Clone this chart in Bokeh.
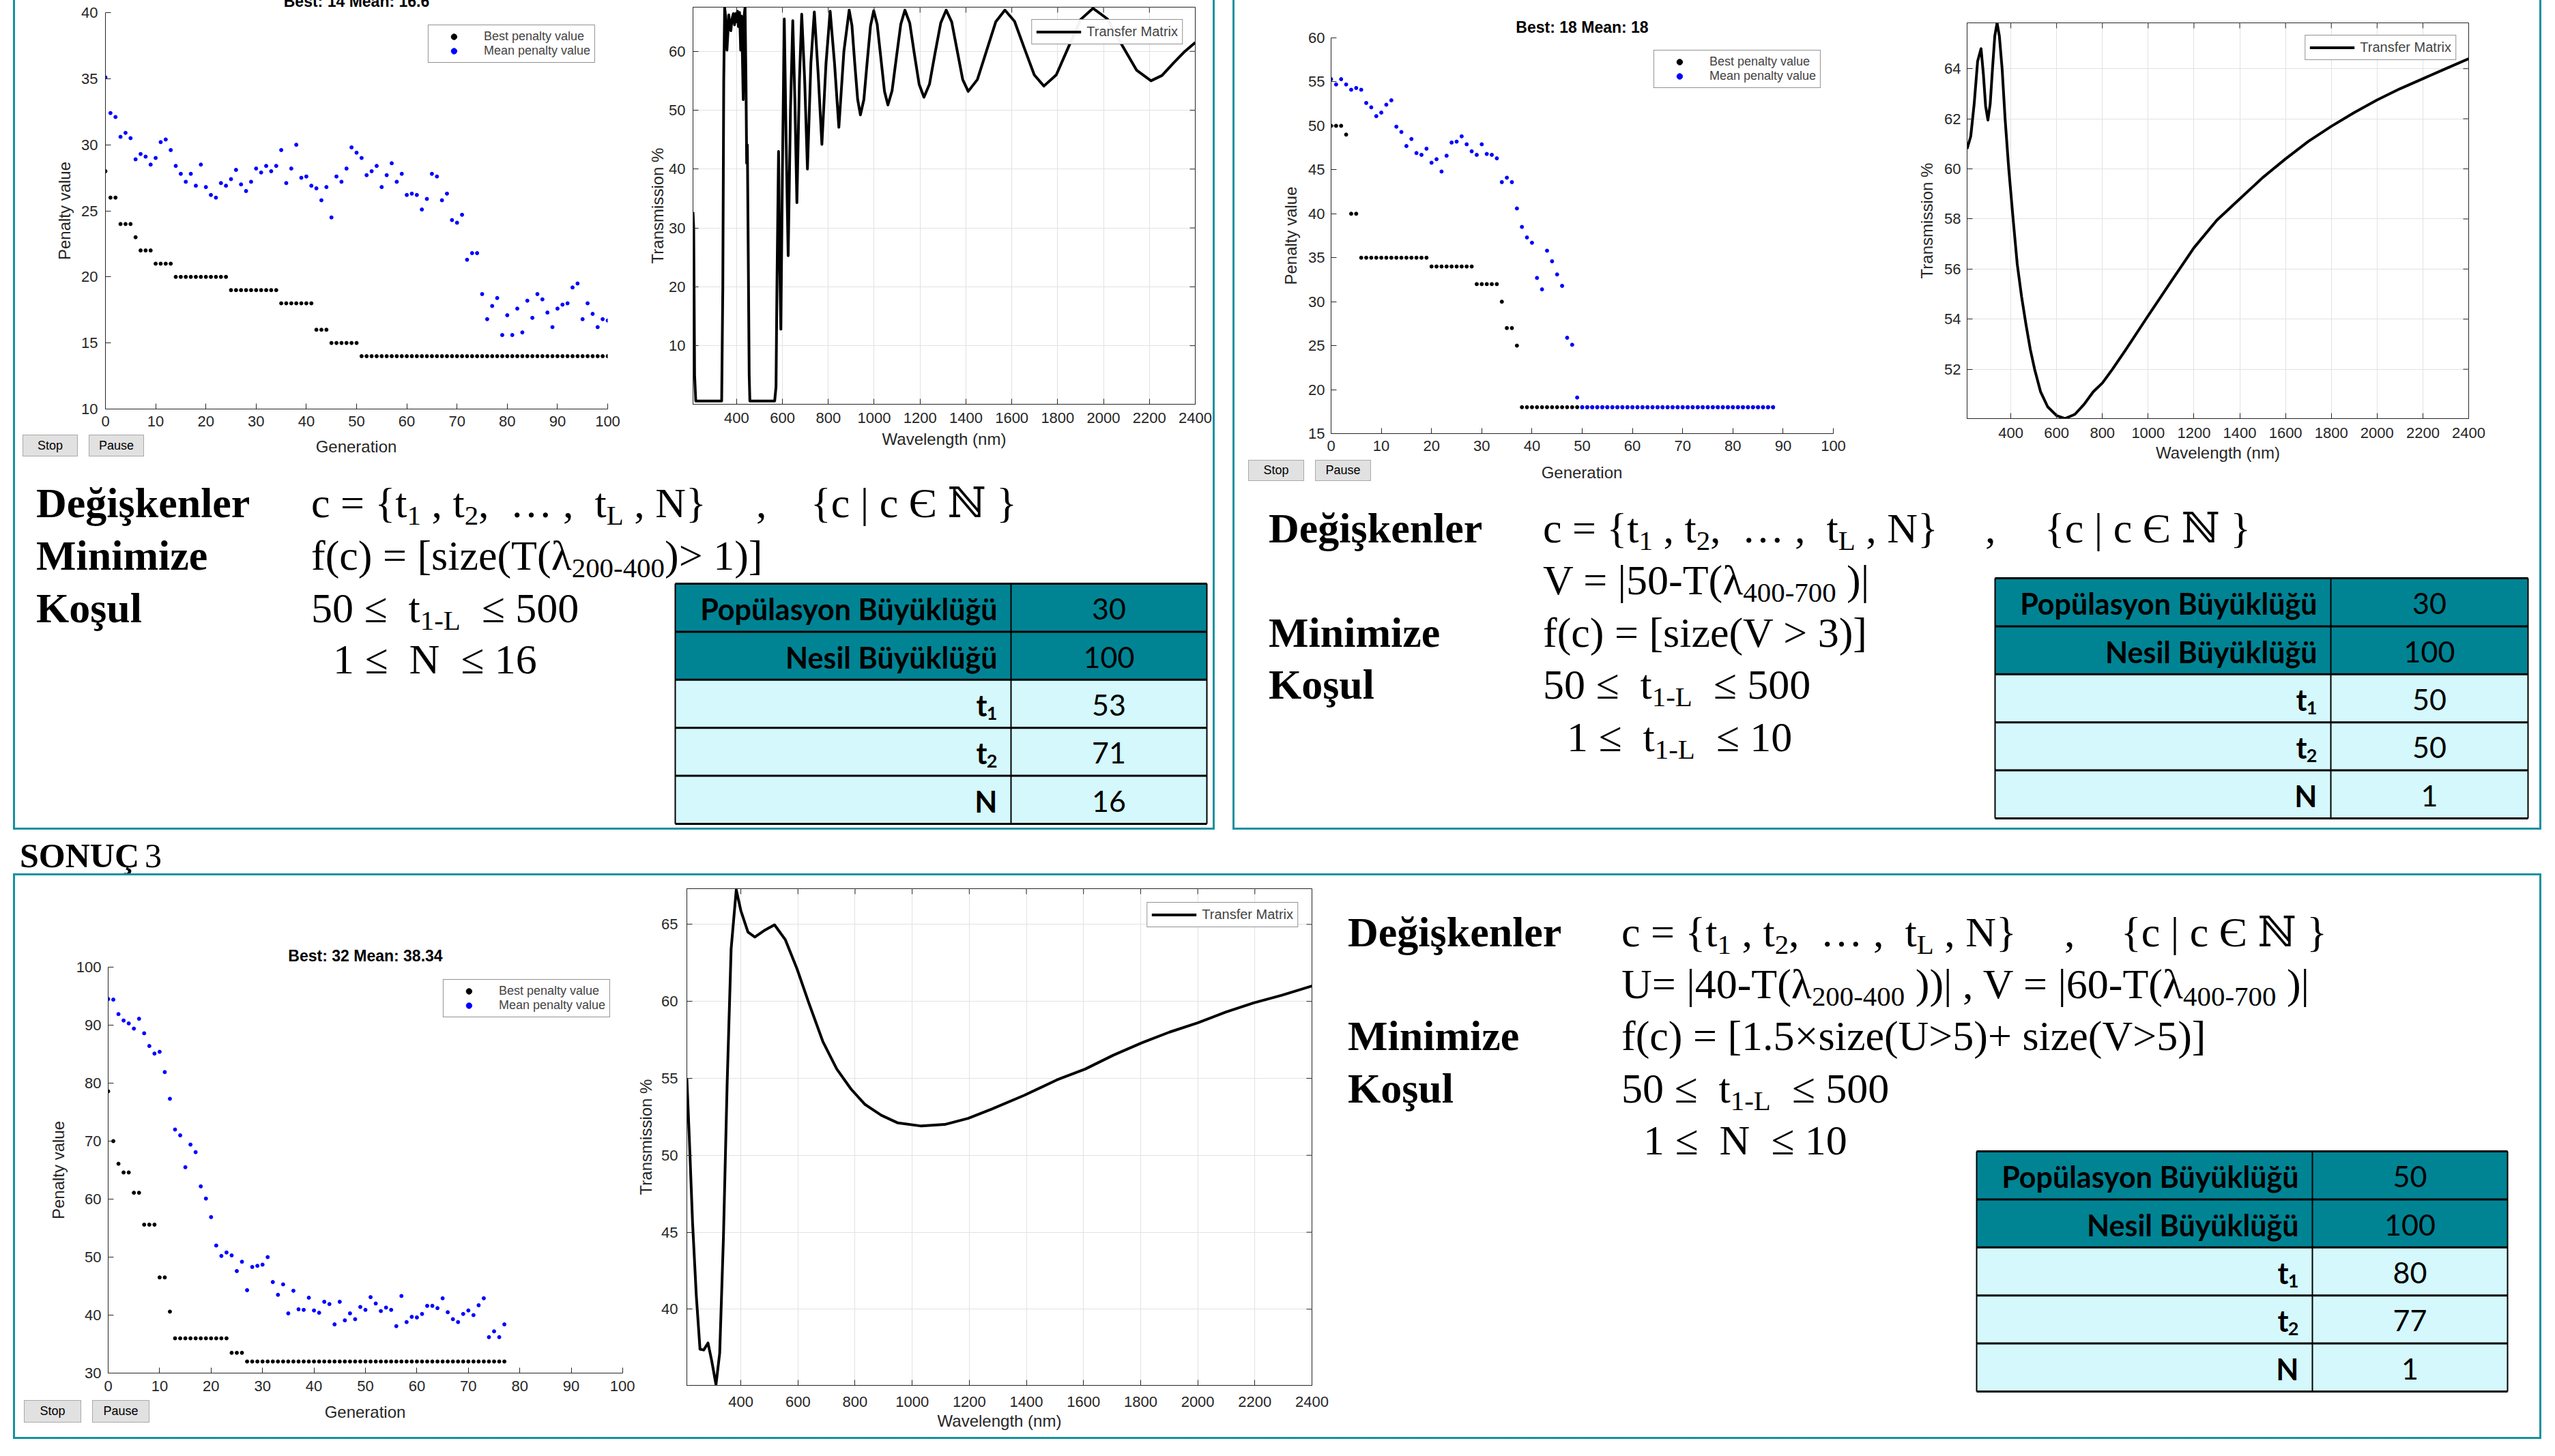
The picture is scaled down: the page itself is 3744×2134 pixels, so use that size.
from bokeh.plotting import figure
from bokeh.models import Range1d, FixedTicker, Div, Spacer
from bokeh.layouts import row, column
from bokeh.embed import file_html
from bokeh.resources import INLINE
from bokeh.core.properties import value

# ------------------------------------------------------------------ data
gen1 = list(range(101))
best1 = [28, 26, 26, 24, 24, 24, 23, 22, 22, 22, 21, 21, 21, 21,
         20, 20, 20, 20, 20, 20, 20, 20, 20, 20, 20,
         19, 19, 19, 19, 19, 19, 19, 19, 19, 19,
         18, 18, 18, 18, 18, 18, 18,
         16, 16, 16,
         15, 15, 15, 15, 15, 15,
         14, 14, 14, 14, 14, 14, 14, 14, 14, 14,
         14, 14, 14, 14, 14, 14, 14, 14, 14, 14,
         14, 14, 14, 14, 14, 14, 14, 14, 14, 14,
         14, 14, 14, 14, 14, 14, 14, 14, 14, 14,
         14, 14, 14, 14, 14, 14, 14, 14, 14, 14]
mean1 = [35.1, 32.4, 32.1, 30.6, 30.9, 30.5, 28.9, 29.3, 29.1, 28.5,
         29.0, 30.2, 30.4, 29.6, 28.4, 27.8, 27.2, 27.8, 26.9, 28.5,
         26.8, 26.2, 26.0, 27.1, 26.9, 27.4, 28.1, 27.0, 26.5, 27.2,
         28.2, 27.9, 28.4, 28.0, 28.4, 29.6, 27.1, 28.2, 30.0, 27.5,
         27.6, 26.9, 26.7, 25.8, 26.8, 24.5, 27.6, 27.2, 28.2, 29.8,
         29.4, 29.0, 27.7, 28.0, 28.4, 26.8, 27.7, 28.6, 27.2, 27.8,
         26.2, 26.3, 26.2, 25.1, 25.9, 27.8, 27.6, 25.8, 26.3, 24.3,
         24.1, 24.7, 21.3, 21.8, 21.8, 18.7, 16.8, 17.8, 18.4, 15.6,
         17.1, 15.6, 17.6, 15.8, 18.2, 16.9, 18.7, 18.3, 17.3, 16.2,
         17.6, 17.9, 18.0, 19.2, 19.5, 16.8, 18.0, 17.2, 16.2, 16.8,
         16.7]

gen2 = list(range(89))
best2 = [50, 50, 50, 49, 40, 40,
         35, 35, 35, 35, 35, 35, 35, 35, 35, 35, 35, 35, 35, 35,
         34, 34, 34, 34, 34, 34, 34, 34, 34,
         32, 32, 32, 32, 32, 30, 27, 27, 25,
         18, 18, 18, 18, 18, 18, 18, 18, 18, 18,
         18, 18, 18, 18, 18, 18, 18, 18, 18, 18,
         18, 18, 18, 18, 18, 18, 18, 18, 18, 18,
         18, 18, 18, 18, 18, 18, 18, 18, 18, 18,
         18, 18, 18, 18, 18, 18, 18, 18, 18, 18, 18]
mean2 = [55.3, 54.7, 55.3, 54.7, 54.1, 54.3, 54.1, 52.6, 52.1, 51.1,
         51.5, 52.4, 52.9, 49.9, 49.3, 47.7, 48.5, 46.9, 46.7, 47.4,
         45.8, 46.2, 44.8, 46.6, 48.1, 48.2, 48.8, 47.9, 47.1, 46.7,
         47.9, 46.8, 46.7, 46.3, 43.6, 44.1, 43.6, 40.6, 38.5, 37.3,
         36.7, 32.7, 31.4, 35.8, 34.6, 33.1, 31.8, 25.9, 25.1, 19.1,
         18, 18, 18, 18, 18, 18, 18, 18, 18, 18,
         18, 18, 18, 18, 18, 18, 18, 18, 18, 18,
         18, 18, 18, 18, 18, 18, 18, 18, 18, 18,
         18, 18, 18, 18, 18, 18, 18, 18, 18]

gen3 = list(range(78))
best3 = [78.6, 70, 66.1, 64.6, 64.6, 61.1, 61.1, 55.6, 55.6, 55.6,
         46.5, 46.5, 40.6,
         36, 36, 36, 36, 36, 36, 36, 36, 36, 36, 36,
         33.5, 33.5, 33.5,
         32, 32, 32, 32, 32, 32, 32, 32, 32, 32,
         32, 32, 32, 32, 32, 32, 32, 32, 32, 32,
         32, 32, 32, 32, 32, 32, 32, 32, 32, 32,
         32, 32, 32, 32, 32, 32, 32, 32, 32, 32,
         32, 32, 32, 32, 32, 32, 32, 32, 32, 32, 32]
mean3 = [94.5, 94.4, 91.9, 90.8, 90.3, 89.4, 91.1, 88.6, 86.4, 85.1,
         85.4, 81.9, 77.3, 72.0, 71.0, 65.5, 69.4, 68.1, 62.2, 60.1,
         56.9, 52.0, 50.2, 50.8, 50.3, 47.6, 49.2, 44.3, 48.3, 48.5,
         48.7, 50.0, 45.7, 43.5, 45.3, 40.3, 44.2, 41.0, 40.9, 43.0,
         40.8, 40.4, 42.3, 41.9, 38.4, 42.3, 39.1, 40.3, 39.3, 41.4,
         40.9, 43.1, 42.0, 40.7, 41.3, 40.9, 38.1, 43.3, 38.8, 39.7,
         39.6, 40.2, 41.6, 41.6, 41.2, 42.9, 40.5, 39.3, 38.8, 40.2,
         40.8, 40.0, 41.7, 42.9, 36.2, 37.2, 36.2, 38.4]

lam1 = [210, 213, 217, 222, 335, 340, 344, 348, 352, 358, 362, 366, 371, 375,
        380, 386, 391, 396, 400, 404, 408, 413, 418, 421, 425, 429, 433, 437,
        441, 444, 447, 450, 455, 458, 566, 572, 576, 583, 588, 593, 600, 608,
        616, 625, 635, 645, 654, 663, 674, 684, 697, 709, 724, 739, 756, 772,
        790, 808, 827, 846, 868, 891, 903, 915, 928, 940, 955, 969, 984, 998,
        1013, 1029, 1045, 1060, 1078, 1097, 1116, 1134, 1155, 1175, 1196, 1217,
        1241, 1265, 1290, 1314, 1338, 1362, 1386, 1410, 1450, 1490, 1530, 1570,
        1612, 1655, 1698, 1740, 1794, 1847, 1900, 1954, 2017, 2080, 2144, 2207,
        2255, 2305, 2355, 2400]
T1 = [32.7, 30.0, 5.0, 0.6, 0.6, 20.0, 55.0, 67.4, 66.0, 60.2, 63.0, 66.2, 64.0, 63.5,
      65.5, 66.4, 64.5, 66.4, 65.0, 66.8, 64.2, 66.6, 60.2, 66.0, 60.0, 51.8, 66.0, 67.5,
      55.0, 41.0, 44.1, 30.0, 5.0, 0.6, 0.6, 3.0, 20.0, 43.0, 25.0, 12.8, 40.0, 65.5,
      45.0, 25.3, 50.0, 65.2, 52.0, 34.3, 55.0, 66.3, 55.0, 40.0, 58.0, 66.7, 56.0, 44.2,
      58.0, 66.8, 58.0, 47.1, 60.0, 67.0, 64.4, 58.1, 51.8, 49.2, 51.8, 58.0, 64.3, 66.9,
      64.6, 58.9, 53.2, 50.9, 53.3, 59.0, 64.6, 67.0, 64.8, 59.6, 54.4, 52.2,
      54.4, 59.6, 64.8, 67.0, 65.0, 60.1, 55.2, 53.2, 55.2, 60.1, 65.0, 67.0,
      65.1, 60.5, 56.0, 54.1, 56.0, 60.7, 65.4, 67.3, 65.5, 61.1, 56.8, 55.0,
      55.9, 58.0, 60.0, 61.5]

lam2 = [209, 225, 240, 255, 270, 280, 290, 300, 310, 320, 330, 340, 350, 362,
        375, 391, 411, 428, 447, 466, 485, 504, 530, 561, 600, 636, 680, 720,
        760, 800, 844, 900, 990, 1100, 1200, 1300, 1400, 1500, 1600, 1700,
        1800, 1900, 2000, 2100, 2200, 2300, 2400]
T2 = [60.8, 61.3, 62.6, 64.3, 64.8, 63.8, 62.5, 61.95, 62.6, 64.0, 65.3, 65.83, 65.3, 64.0,
      62.0, 60.0, 57.9, 56.2, 54.9, 53.8, 52.8, 52.0, 51.1, 50.5, 50.15, 50.03, 50.2, 50.6,
      51.1, 51.45, 52.0, 52.75, 54.0, 55.5, 56.85, 57.95, 58.8, 59.65, 60.4, 61.1,
      61.7, 62.25, 62.75, 63.2, 63.6, 64.0, 64.4]

lam3 = [211, 220, 231, 244, 257, 270, 285, 298, 313, 326, 339, 352, 366, 384,
        400, 425, 449, 482, 518, 556, 597, 638, 687, 736, 786, 835, 892, 950,
        1032, 1114, 1196, 1278, 1393, 1507, 1606, 1704, 1803, 1901, 2000, 2098,
        2196, 2295, 2400]
T3 = [55.0, 50.9, 45.6, 40.9, 37.4, 37.35, 37.8, 36.65, 35.1, 37.15, 44.6, 54.6, 63.4, 67.25,
      65.9, 64.5, 64.18, 64.6, 64.97, 64.0, 62.1, 59.9, 57.4, 55.6, 54.3, 53.3, 52.6, 52.1,
      51.9, 52.0, 52.4, 53.0, 53.9, 54.9, 55.6, 56.5, 57.3, 58.0, 58.6, 59.3,
      59.9, 60.4, 61.0]

table_labels = ["Popülasyon Büyüklüğü", "Nesil Büyüklüğü", "t", "t", "N"]
table_subs = ["", "", "1", "2", ""]
table1_values = ["30", "100", "53", "71", "16"]
table2_values = ["30", "100", "50", "50", "1"]
table3_values = ["50", "100", "80", "77", "1"]

titles = ["Best: 14 Mean: 16.6", "Best: 18 Mean: 18", "Best: 32 Mean: 38.34"]
gen_ticks = [0, 10, 20, 30, 40, 50, 60, 70, 80, 90, 100]
pen_ticks1 = [10, 15, 20, 25, 30, 35, 40]
pen_ticks2 = [15, 20, 25, 30, 35, 40, 45, 50, 55, 60]
pen_ticks3 = [30, 40, 50, 60, 70, 80, 90, 100]
wl_ticks = [400, 600, 800, 1000, 1200, 1400, 1600, 1800, 2000, 2200, 2400]
tr_ticks1 = [10, 20, 30, 40, 50, 60]
tr_ticks2 = [52, 54, 56, 58, 60, 62, 64]
tr_ticks3 = [40, 45, 50, 55, 60, 65]

# ------------------------------------------------------------------ styles
TEAL = "#17919f"
HEAD = "#008494"
LIGHT = "#d4f8fc"
AX = "#262626"
SANS = "Liberation Sans"
SHIFT = 24   # page is shifted up by this many px (top of the slide is cut off)


def style_axis(ax, tick_so, label_so):
    ax.major_tick_in = 8
    ax.major_tick_out = 0
    ax.minor_tick_in = 0
    ax.minor_tick_out = 0
    ax.axis_line_color = AX
    ax.major_tick_line_color = AX
    ax.major_label_text_font = SANS
    ax.major_label_text_font_size = "22px"
    ax.major_label_text_color = AX
    ax.major_label_standoff = tick_so
    ax.axis_label_text_font = SANS
    ax.axis_label_text_font_size = "24px"
    ax.axis_label_text_font_style = "normal"
    ax.axis_label_text_color = AX
    ax.axis_label_standoff = label_so


def ga_block(w, h_fig, h_div, bl, br, bt, bb, yr, yticks, gb, best, gm, mean, title,
             title_so, tso, lso, buttons, gen_center):
    xr = (0, 100)
    p = figure(width=w, height=h_fig, x_range=Range1d(*xr), y_range=Range1d(*yr),
               output_backend="svg", toolbar_location=None, title=title,
               min_border_left=bl, min_border_right=br, min_border_top=bt,
               min_border_bottom=bb, outline_line_color=None,
               background_fill_color="white", border_fill_color="white")
    p.title.align = "center"
    p.title.text_font = SANS
    p.title.text_font_style = "bold"
    p.title.text_font_size = "23px"
    p.title.text_color = "black"
    p.title.standoff = title_so
    p.scatter(gb, best, size=5, color="black", legend_label="Best penalty value")
    p.scatter(gm, mean, size=5, color="blue", legend_label="Mean penalty value")
    p.grid.visible = False
    p.xaxis.ticker = FixedTicker(ticks=gen_ticks)
    p.yaxis.ticker = FixedTicker(ticks=yticks)
    p.yaxis.axis_label = "Penalty value"
    style_axis(p.xaxis[0], tso[0], 0)
    style_axis(p.yaxis[0], tso[1], lso)
    leg = p.legend[0]
    leg.location = "top_right"
    leg.margin = 18
    leg.padding = 6
    leg.spacing = 0
    leg.label_text_font = SANS
    leg.label_text_font_size = "18px"
    leg.label_height = 21
    leg.glyph_height = 21
    leg.glyph_width = 62
    leg.label_standoff = 13
    leg.border_line_color = AX
    leg.border_line_width = 1
    # strip under the plot: Stop / Pause buttons and the x-axis title
    parts = []
    for (txt, left, top, bw, bh) in buttons:
        parts.append('<div style="position:absolute;left:%dpx;top:%dpx;width:%dpx;height:%dpx;'
                     'box-sizing:border-box;background:#e1e1e1;border:1px solid #a9a9a9;'
                     "font-family:'Liberation Sans',sans-serif;font-size:18px;color:#000;"
                     'line-height:%dpx;text-align:center">%s</div>'
                     % (left, top, bw, bh, bh - 2, txt))
    cx, cy = gen_center
    parts.append('<div style="position:absolute;left:%dpx;top:%dpx;width:300px;height:28px;'
                 "font-family:'Liberation Sans',sans-serif;font-size:24px;color:%s;"
                 'line-height:28px;text-align:center;white-space:nowrap">Generation</div>'
                 % (cx - 150, cy - 14, AX))
    d = Div(text='<div style="position:relative;width:%dpx;height:%dpx">%s</div>'
            % (w, h_div, "".join(parts)), width=w, height=h_div, margin=0)
    return column(p, d)


def tm_fig(w, h, bl, br, bt, bb, xr, yr, yticks, lam, T, tso, lso, lmargin):
    p = figure(width=w, height=h, x_range=Range1d(*xr), y_range=Range1d(*yr),
               output_backend="svg", toolbar_location=None, title=None,
               min_border_left=bl, min_border_right=br, min_border_top=bt,
               min_border_bottom=bb, outline_line_color=AX, outline_line_width=1,
               background_fill_color="white", border_fill_color="white")
    fw, fh = w - bl - br, h - bt - bb
    p.line(lam, T, line_color="black", line_width=4, line_join="round",
           legend_label="Transfer Matrix")
    p.xaxis.ticker = FixedTicker(ticks=wl_ticks)
    p.yaxis.ticker = FixedTicker(ticks=yticks)
    p.xgrid.ticker = FixedTicker(ticks=wl_ticks)
    p.ygrid.ticker = FixedTicker(ticks=yticks)
    p.grid.grid_line_color = "#e2e2e2"
    p.grid.grid_line_width = 1
    p.xaxis.axis_label = "Wavelength (nm)"
    p.yaxis.axis_label = "Transmission %"
    style_axis(p.xaxis[0], tso[0], lso[0])
    style_axis(p.yaxis[0], tso[1], lso[1])
    # inward tick marks on the top and right edges (MATLAB box)
    dy = (yr[1] - yr[0]) / fh
    dx = (xr[1] - xr[0]) / fw
    nx, ny = len(wl_ticks), len(yticks)
    p.segment(x0=wl_ticks, x1=wl_ticks, y0=[yr[1]] * nx, y1=[yr[1] - 8 * dy] * nx,
              line_color=AX, line_width=1)
    p.segment(x0=[xr[1]] * ny, x1=[xr[1] - 8 * dx] * ny, y0=yticks, y1=yticks,
              line_color=AX, line_width=1)
    leg = p.legend[0]
    leg.location = "top_right"
    leg.margin = lmargin
    leg.padding = 6
    leg.spacing = 0
    leg.label_text_font = SANS
    leg.label_text_font_size = "20px"
    leg.label_height = 21
    leg.glyph_height = 21
    leg.glyph_width = 66
    leg.label_standoff = 8
    leg.border_line_color = AX
    leg.border_line_width = 1
    return p


def table_fig(w, h, table_top, br_extra, labels, subs, vals, lw=492, th=352):
    n = len(labels)
    tw = w - br_extra
    vw = tw - lw
    rh = th / n
    ft = max(table_top - 2, 0)
    fh = th + 4
    p = figure(width=w, height=h, x_range=Range1d(-2, tw + 2),
               y_range=Range1d(n + 2 / rh, -2 / rh),
               x_axis_type=None, y_axis_type=None, output_backend="svg",
               toolbar_location=None, title=None,
               min_border_left=0, min_border_right=w - (tw + 4),
               min_border_top=ft, min_border_bottom=h - ft - fh,
               outline_line_color=None, background_fill_color="white",
               border_fill_color="white")
    p.grid.visible = False
    idx = list(range(n))
    fills = [HEAD if i < 2 else LIGHT for i in idx]
    p.quad(left=[0] * n, right=[lw] * n, top=idx, bottom=[i + 1 for i in idx],
           fill_color=fills, line_color=None)
    p.quad(left=[lw] * n, right=[tw] * n, top=idx, bottom=[i + 1 for i in idx],
           fill_color=fills, line_color=None)
    p.segment(x0=[0] * (n + 1), x1=[tw] * (n + 1), y0=list(range(n + 1)),
              y1=list(range(n + 1)), line_color="black", line_width=3)
    p.segment(x0=[0, lw, tw], x1=[0, lw, tw], y0=[0, 0, 0], y1=[n, n, n],
              line_color="black", line_width=2)
    ys = [i + 0.5 for i in idx]
    offs = [-15 if s else 0 for s in subs]
    p.text(x=[lw - 20] * n, y=ys, text=labels, x_offset=offs, y_offset=[2] * n,
           text_align="right", text_baseline="middle", text_font=value("Lato"),
           text_font_style="bold", text_font_size="43px", text_color="black")
    sub_idx = [i for i in idx if subs[i]]
    p.text(x=[lw - 20] * len(sub_idx), y=[ys[i] for i in sub_idx],
           text=[subs[i] for i in sub_idx], y_offset=[14] * len(sub_idx),
           text_align="right", text_baseline="middle", text_font=value("Lato"),
           text_font_style="bold", text_font_size="27px", text_color="black")
    p.text(x=[lw + vw / 2] * n, y=ys, text=vals, y_offset=[2] * n,
           text_align="center", text_baseline="middle", text_font=value("Lato"),
           text_font_size="43px", text_color="black")
    return p


FS = 62


def SUB(s):
    return ('<span style="font-size:0.66em;position:relative;top:0.26em">' + s + '</span>')


def text_div(w, h, items):
    parts = []
    for (left, base, html, bold) in items:
        top = base - round(0.8375 * FS)
        parts.append('<div style="position:absolute;left:%dpx;top:%dpx;font-size:%dpx;'
                     'font-weight:%s;white-space:nowrap;line-height:1">%s</div>'
                     % (left, top, FS, "bold" if bold else "normal", html))
    html = ('<div style="position:relative;width:%dpx;height:%dpx;'
            "font-family:'Liberation Serif','DejaVu Serif',serif;color:#000\">%s</div>"
            % (w, h, "".join(parts)))
    return Div(text=html, width=w, height=h, margin=0)


def vline(h):
    return Div(text="", width=3, height=h, margin=0, styles={"background-color": TEAL})


def hline(w):
    return Div(text="", width=w, height=3, margin=0, styles={"background-color": TEAL})


C_FORM = ("c = {t" + SUB("1") + " , t" + SUB("2") + ", &nbsp;… , &nbsp;t" + SUB("L")
          + " , N}")
SET_FORM = "{c | c Є ℕ }"
LE_T500 = "50 ≤ &nbsp;t" + SUB("1-L") + " &nbsp;≤ 500"

# ------------------------------------------------------------------ box 1
ga1 = ga_block(908, SHIFT + 637, 63, 132, 40, 18 + SHIFT, 38, (10, 40), pen_ticks1,
               gen1, best1, gen1, mean1, titles[0], 8, (10, 11), 8,
               [("Stop", 11, 0, 81, 32), ("Pause", 108, 0, 81, 32)], (500, 18))
tm1 = tm_fig(847, 700 + SHIFT, 85, 26, 10 + SHIFT, 108, (210, 2400), (0.05, 67.5), tr_ticks1,
             lam1, T1, (12, 11), (7, 0), 18)
divA1 = text_div(1755, 153, [
    (31, 58, "Değişkenler", True),
    (434, 58, C_FORM, False),
    (1086, 58, ",", False),
    (1166, 58, SET_FORM, False),
    (31, 135, "Minimize", True),
    (434, 135, "f(c) = [size(T(λ" + SUB("200-400") + ")&gt; 1)]", False),
])
divB1 = text_div(965, 360, [
    (31, 59, "Koşul", True),
    (434, 59, LE_T500, False),
    (466, 134, "1 ≤ &nbsp;N &nbsp;≤ 16", False),
])
tab1 = table_fig(790, 360, 1, 11, table_labels, table_subs, table1_values)
content1 = column(row(ga1, tm1), divA1, row(divB1, tab1))
box1 = column(row(vline(1213 + SHIFT), content1, vline(1213 + SHIFT)), hline(1761))

# ------------------------------------------------------------------ box 2
ga2 = ga_block(951, SHIFT + 673, 47, 141, 74, 55 + SHIFT, 38, (15, 60), pen_ticks2,
               gen2, best2, gen2, mean2, titles[1], 6, (10, 9), 9,
               [("Stop", 20, 1, 82, 31), ("Pause", 118, 1, 82, 31)], (509, 20))
tm2 = tm_fig(961, 720 + SHIFT, 122, 104, 33 + SHIFT, 107, (209, 2400), (50.03, 65.83),
             tr_ticks2, lam2, T2, (13, 9), (5, 9), 18)
divA2 = text_div(1912, 98, [
    (50, 75, "Değişkenler", True),
    (452, 75, C_FORM, False),
    (1100, 75, ",", False),
    (1187, 75, SET_FORM, False),
])
divB2 = text_div(1112, 395, [
    (452, 53, "V = |50-T(λ" + SUB("400-700") + " )|", False),
    (50, 130, "Minimize", True),
    (452, 130, "f(c) = [size(V &gt; 3)]", False),
    (50, 206, "Koşul", True),
    (452, 206, LE_T500, False),
    (487, 283, "1 ≤ &nbsp;t" + SUB("1-L") + " &nbsp;≤ 10", False),
])
tab2 = table_fig(800, 395, 29, 19, table_labels, table_subs, table2_values)
content2 = column(row(ga2, tm2), divA2, row(divB2, tab2))
box2 = column(row(vline(1213 + SHIFT), content2, vline(1213 + SHIFT)), hline(1918))

TOPH = 1216 + SHIFT
top = row(Spacer(width=19, height=TOPH, margin=0), box1,
          Spacer(width=26, height=TOPH, margin=0), box2,
          Spacer(width=20, height=TOPH, margin=0))

sonuc = Div(text=("<div style=\"position:relative;width:3744px;height:64px\">"
                  "<div style=\"position:absolute;left:29px;top:13px;white-space:nowrap;"
                  "font-family:'Liberation Serif',serif;font-size:50px;line-height:1;color:#000\">"
                  "<b>SONUÇ</b><span style=\"font-weight:normal;margin-left:8px\">3</span>"
                  "</div></div>"),
            width=3744, height=64, margin=0)

# ------------------------------------------------------------------ box 3
ga3 = ga_block(908, 768, 55, 136, 18, 134, 39, (30, 100), pen_ticks3, gen3, best3, gen3,
               mean3, titles[2], 7, (11, 10), 10,
               [("Stop", 13, 1, 84, 33), ("Pause", 113, 1, 84, 33)], (513, 19))
tm3 = tm_fig(1020, 823, 73, 28, 19, 76, (211, 2400), (35.05, 67.32), tr_ticks3, lam3, T3,
             (16, 13), (4, 6), 20)
divA3 = text_div(1771, 362, [
    (25, 104, "Değişkenler", True),
    (426, 104, C_FORM, False),
    (1075, 104, ",", False),
    (1158, 104, SET_FORM, False),
    (426, 180, "U= |40-T(λ" + SUB("200-400") + " ))| , V = |60-T(λ" + SUB("400-700") + " )|", False),
    (25, 256, "Minimize", True),
    (426, 256, "f(c) = [1.5×size(U&gt;5)+ size(V&gt;5)]", False),
    (25, 333, "Koşul", True),
    (426, 333, LE_T500, False),
])
divB3 = text_div(944, 461, [
    (458, 47, "1 ≤ &nbsp;N &nbsp;≤ 10", False),
])
tab3 = table_fig(827, 461, 42, 49, table_labels, table_subs, table3_values)
content3 = row(ga3, tm3, column(divA3, row(divB3, tab3)))
box3 = column(hline(3705), row(vline(823), content3, vline(823)), hline(3705))
bottom = row(Spacer(width=19, height=829, margin=0), box3, Spacer(width=20, height=829, margin=0))

strip = Div(text="", width=3744, height=25, margin=0,
            styles={"background": "linear-gradient(to bottom, #ffffff, #58a6b4)"})

page = column(top, sonuc, bottom, strip)

html = file_html(page, INLINE, title="SONUÇ")
html = html.replace("<head>", "<head><style>html,body{margin:0;padding:0;}"
                    "body{position:relative;top:-%dpx;}</style>" % SHIFT, 1)
open("out.html", "w").write(html)
